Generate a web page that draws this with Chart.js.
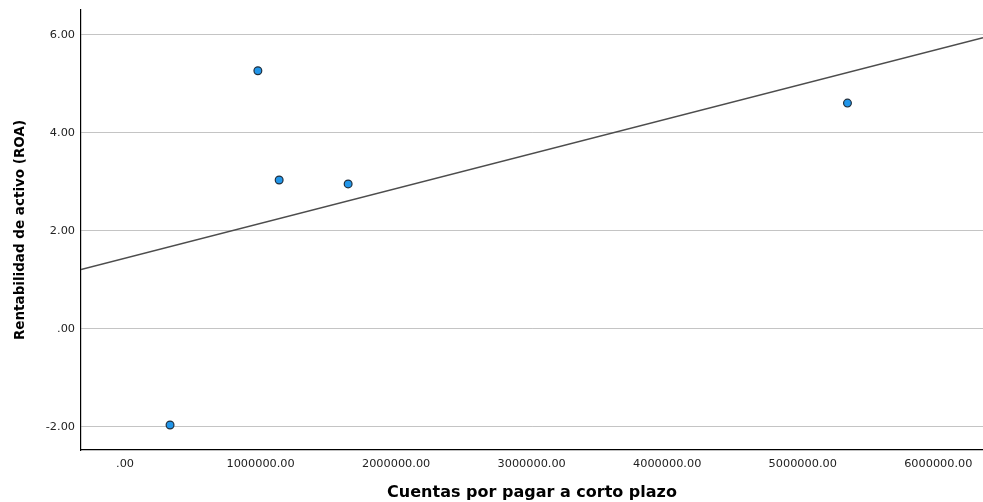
<!DOCTYPE html>
<html>
<head>
<meta charset="utf-8">
<script src="https://cdn.jsdelivr.net/npm/chart.js@4"></script>
<style>
  html, body { margin: 0; padding: 0; background: #fff; }
  #wrap { width: 983px; height: 502px; }
</style>
</head>
<body>
<div id="wrap"><canvas id="roaChart"></canvas></div>
<script>
// values
const cuentasPorPagar = [980000, 1137000, 1646000, 332000, 5330000];
const roa = [5.27, 3.04, 2.96, -1.96, 4.61];
const xTicks = [0, 1000000, 2000000, 3000000, 4000000, 5000000, 6000000];
const yTicks = [-2, 0, 2, 4, 6];
const xRange = [-325000, 6330000];
const yRange = [-2.47, 6.51];

// least squares fit line (drawn by SPSS)
function fitLine(xs, ys) {
  const n = xs.length;
  const mx = xs.reduce((a, b) => a + b, 0) / n;
  const my = ys.reduce((a, b) => a + b, 0) / n;
  let sxx = 0, sxy = 0;
  for (let i = 0; i < n; i++) {
    sxx += (xs[i] - mx) * (xs[i] - mx);
    sxy += (xs[i] - mx) * (ys[i] - my);
  }
  const b = sxy / sxx;
  const a = my - b * mx;
  return xRange.map(x => ({ x: x, y: a + b * x }));
}

function fmt(v) {
  if (v === 0) return '.00';
  return v.toFixed(2);
}

const points = cuentasPorPagar.map((x, i) => ({ x: x, y: roa[i] }));
const tickFont = { family: 'DejaVu Sans, sans-serif', size: 11.3 };
const titleFontX = { family: 'DejaVu Sans, sans-serif', size: 16, weight: 'bold' };
const titleFontY = { family: 'DejaVu Sans, sans-serif', size: 13.5, weight: 'bold' };

const ctx = document.getElementById('roaChart').getContext('2d');
new Chart(ctx, {
  type: 'scatter',
  data: {
    datasets: [
      {
        label: 'ROA',
        data: points,
        backgroundColor: '#2196ea',
        borderColor: '#23303d',
        borderWidth: 1.2,
        pointRadius: 3.9,
        order: 0
      },
      {
        type: 'line',
        label: 'Ajuste',
        data: fitLine(cuentasPorPagar, roa),
        borderColor: '#4d4d4d',
        borderWidth: 1.5,
        pointRadius: 0,
        fill: false,
        order: 1
      }
    ]
  },
  options: {
    responsive: true,
    maintainAspectRatio: false,
    animation: false,
    layout: { autoPadding: false, padding: { top: 10, right: 0, left: 0, bottom: 0 } },
    plugins: {
      legend: { display: false },
      tooltip: { enabled: false }
    },
    scales: {
      x: {
        type: 'linear',
        min: xRange[0],
        max: xRange[1],
        afterBuildTicks: s => { s.ticks = xTicks.map(v => ({ value: v })); },
        afterFit: s => { s.height = 52; s.paddingLeft = 0; s.paddingRight = 0; },
        grid: { display: false, drawTicks: false },
        border: { display: true, color: '#000', width: 1.2 },
        ticks: {
          callback: v => fmt(v),
          color: '#222',
          font: tickFont,
          padding: 7,
          maxRotation: 0
        },
        title: {
          display: true,
          text: 'Cuentas por pagar a corto plazo',
          color: '#000',
          font: titleFontX,
          padding: { top: 0, bottom: 0 }
        }
      },
      y: {
        type: 'linear',
        min: yRange[0],
        max: yRange[1],
        afterBuildTicks: s => { s.ticks = yTicks.map(v => ({ value: v })); },
        afterFit: s => { s.width = 81; s.paddingTop = 0; s.paddingBottom = 0; },
        grid: { color: '#c4c4c4', lineWidth: 1, drawTicks: false },
        border: { display: true, color: '#000', width: 1.2 },
        ticks: {
          callback: v => fmt(v),
          color: '#222',
          font: tickFont,
          padding: 6
        },
        title: {
          display: true,
          text: 'Rentabilidad de activo (ROA)',
          color: '#000',
          font: titleFontY,
          padding: { top: 12, bottom: 0 }
        }
      }
    }
  }
});
</script>
</body>
</html>
